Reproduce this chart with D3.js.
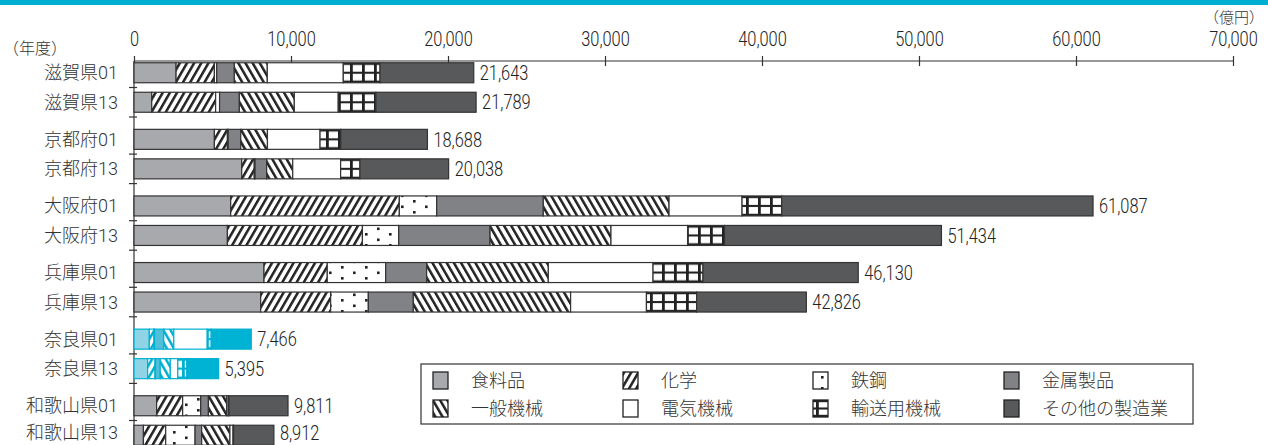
<!DOCTYPE html>
<html><head><meta charset="utf-8">
<script src="https://cdn.jsdelivr.net/npm/d3@7"></script>
<style>
html,body{margin:0;padding:0;background:#fff;}
text{font-family:"Roboto","Noto Sans CJK JP",sans-serif;fill:#333;font-weight:300;}
.cjk{font-family:"Noto Sans CJK JP",sans-serif;font-weight:300;}
.num{font-weight:300;fill:#222;}
</style></head>
<body><svg id="c" width="1268" height="445"></svg>
<script>
const prefectures = ["滋賀県","京都府","大阪府","兵庫県","奈良県","和歌山県"];
const years = ["01","13"];
const categories = ["食料品","化学","鉄鋼","金属製品","一般機械","電気機械","輸送用機械","その他の製造業"];
const highlight = "奈良県";
const tickValues = [0,10000,20000,30000,40000,50000,60000,70000];
const unitLabel = "（億円）";
const yearLabel = "（年度）";
// rows: 滋賀01, 滋賀13, 京都01, 京都13, 大阪01, 大阪13, 兵庫01, 兵庫13, 奈良01, 奈良13, 和歌山01, 和歌山13
const food      = [2680,1130,5120,6860,6160,5950,8280,8070,975,870,1440,600];
const chemical  = [2440,4070,830,800,10740,8600,4030,4455,300,470,1660,1420];
const steel     = [150,250,50,50,2380,2310,3720,2400,30,30,1150,1870];
const metal     = [1120,1260,800,740,6790,5820,2610,2865,590,300,490,420];
const machinery = [2100,3500,1700,1660,8010,7700,7750,10020,640,640,1160,1800];
const electric  = [4840,2800,3350,3050,4650,4880,6670,4830,2130,480,100,200];
const transport = [2340,2400,1320,1230,2525,2350,3180,3195,255,580,50,30];
const other     = [5970,6380,5520,5650,19830,13820,9890,6990,2550,2020,3760,2570];
const totals    = [21643,21789,18688,20038,61087,51434,46130,42826,7466,5395,9811,8912];
const series = [food,chemical,steel,metal,machinery,electric,transport,other];

const svg = d3.select("#c");
const defs = svg.append("defs");
const CYAN = "#00b0d1";
const NARROW = 0.82;

function stripes(id, angle, color){
  const p = defs.append("pattern").attr("id",id).attr("patternUnits","userSpaceOnUse")
    .attr("width",6.2).attr("height",6).attr("patternTransform",`rotate(${angle})`);
  p.append("rect").attr("width",6.2).attr("height",6).attr("fill","#fff");
  p.append("rect").attr("width",2.5).attr("height",6).attr("fill",color);
}
function dots(id, color){
  const p = defs.append("pattern").attr("id",id).attr("patternUnits","userSpaceOnUse")
    .attr("width",24).attr("height",11);
  p.append("rect").attr("width",24).attr("height",11).attr("fill","#fff");
  p.append("rect").attr("x",5).attr("y",2).attr("width",2.6).attr("height",2.6).attr("fill",color);
  p.append("rect").attr("x",17).attr("y",7.5).attr("width",2.6).attr("height",2.6).attr("fill",color);
}
function grid(id, x0, y0, h, color){
  const p = defs.append("pattern").attr("id",id).attr("patternUnits","userSpaceOnUse")
    .attr("x",x0).attr("y",y0).attr("width",12).attr("height",h);
  p.append("rect").attr("width",12).attr("height",h).attr("fill",color);
  const cell = (h-6.5)/2;
  p.append("rect").attr("x",2.8).attr("y",2.2).attr("width",9.2).attr("height",cell).attr("fill","#fff");
  p.append("rect").attr("x",2.8).attr("y",4.3+cell).attr("width",9.2).attr("height",cell).attr("fill","#fff");
}
const themes = {
  k:{stroke:"#333", fills:["#a7a9ac",null,null,"#808285",null,"#fff",null,"#58595b"], ink:"#222"},
  c:{stroke:CYAN, fills:["#8ed4e6",null,null,"#50c0da",null,"#fff",null,"#00b2d3"], ink:CYAN}
};
for (const k of ["k","c"]) {
  stripes("slash-"+k, 30, themes[k].ink);
  stripes("back-"+k, -30, themes[k].ink);
  dots("dots-"+k, themes[k].ink);
}

function narrowText(parent, px, py, str, size, anchor){
  const g = parent.append("g").attr("transform",`translate(${px},${py}) scale(${NARROW},1)`);
  return g.append("text").attr("class","num").attr("text-anchor",anchor||"start").attr("dy","0.36em").attr("font-size",size).text(str);
}

const x = d3.scaleLinear().domain([0,70000]).range([134,1233]);
const yG = d3.scaleBand().domain(prefectures).range([58, 58+6*66.6-7.6]).paddingInner(0.114).paddingOuter(0);
const yY = d3.scaleBand().domain(years).range([0, yG.bandwidth()]);
const barH = 20;

// top band
svg.append("rect").attr("x",0).attr("y",0).attr("width",1268).attr("height",5).attr("fill","#00afcf");

// axis
const ax = svg.append("g").attr("transform","translate(0,61)")
  .call(d3.axisTop(x).tickValues(tickValues).tickSize(5).tickPadding(10).tickFormat(d3.format(",")));
ax.select(".domain").attr("stroke","#333").attr("stroke-width",1.2).attr("d",`M${x(0)},0H${x(70000)}`);
ax.selectAll(".tick line").attr("stroke","#333").attr("stroke-width",1.2).attr("y1",5).attr("y2",-5);
ax.selectAll(".tick text").attr("class","num").attr("font-size",20).attr("fill","#222")
  .attr("transform",`scale(${NARROW},1)`)
  .style("font-family",'"Roboto",sans-serif');

svg.append("text").attr("class","cjk").attr("x",1264).attr("y",23).attr("text-anchor","end").attr("font-size",15).text(unitLabel);
svg.append("text").attr("class","cjk").attr("x",3).attr("y",54).attr("font-size",16).text(yearLabel);

// rows
const rows = [];
prefectures.forEach((p,pi)=>years.forEach((yr,yi)=>{
  const i = pi*2+yi;
  rows.push({pref:p, year:yr, i, cy: yG(p)+yY(yr)+yY.bandwidth()/2, end: yG(p)+yY(yr)+yY.bandwidth()});
}));

// left axis line
svg.append("line").attr("x1",x(0)).attr("x2",x(0)).attr("y1",61).attr("y2",445).attr("stroke","#333").attr("stroke-width",1.2);
svg.selectAll(".ytick").data(rows).join("line").attr("class","ytick")
  .attr("x1",x(0)-5).attr("x2",x(0)+3).attr("y1",d=>d.end).attr("y2",d=>d.end)
  .attr("stroke","#333").attr("stroke-width",1.2);

rows.forEach(r=>{
  const k = r.pref===highlight ? "c" : "k";
  const th = themes[k];
  const top = r.cy - barH/2;
  grid("grid-"+r.i, x(0), top, barH, th.ink);
  const fills = [th.fills[0], `url(#slash-${k})`, `url(#dots-${k})`, th.fills[3], `url(#back-${k})`, th.fills[5], `url(#grid-${r.i})`, th.fills[7]];
  let acc = 0;
  const segs = series.map((s,si)=>{ const v=s[r.i]; const d={x0:acc, x1:acc+v, fill:fills[si]}; acc+=v; return d; });
  const g = svg.append("g");
  g.selectAll("rect").data(segs).join("rect")
    .attr("x",d=>x(d.x0)).attr("y",top).attr("width",d=>x(d.x1)-x(d.x0)).attr("height",barH)
    .attr("fill",d=>d.fill).attr("stroke",th.stroke).attr("stroke-width",1.2);
  const ty = Math.min(r.cy, 432.5);
  narrowText(svg, x(acc)+6, ty, d3.format(",")(totals[r.i]), 20, "start");
  const lab = svg.append("text").attr("x",118).attr("y",ty).attr("dy","0.36em").attr("text-anchor","end").attr("font-size",18);
  lab.append("tspan").attr("class","cjk").text(r.pref);
  lab.append("tspan").text(r.year);
});

// legend
const lg = svg.append("g");
lg.append("rect").attr("x",421).attr("y",364).attr("width",772).attr("height",60).attr("fill","#fff").attr("stroke","#333").attr("stroke-width",1.2);
const colX = [433,623,813,1004];
const rowY = [372,400];
grid("grid-legend", 0, rowY[1], 17, "#222");
const lfills = ["#a7a9ac","url(#slash-k)","url(#dots-k)","#808285","url(#back-k)","#fff","url(#grid-legend)","#58595b"];
categories.forEach((c,ci)=>{
  const cx = colX[ci%4], cy = rowY[Math.floor(ci/4)];
  lg.append("rect").attr("x",cx).attr("y",cy).attr("width",15).attr("height",17)
    .attr("fill",lfills[ci]).attr("stroke","#222").attr("stroke-width",1.3);
  lg.append("text").attr("class","cjk").attr("x",cx+38).attr("y",cy+8.5).attr("dy","0.36em").attr("font-size",18).text(c);
});
</script></body></html>
